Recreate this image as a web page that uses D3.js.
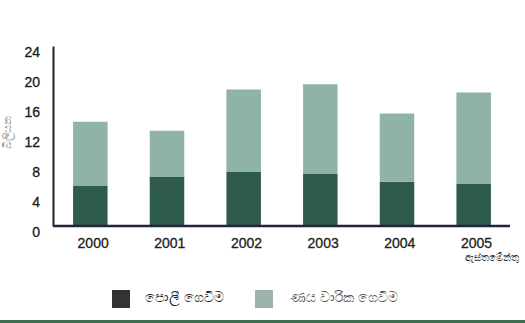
<!DOCTYPE html>
<html><head><meta charset="utf-8">
<script src="https://cdn.jsdelivr.net/npm/d3@7/dist/d3.min.js"></script>
<style>body{margin:0;background:#fff}svg{display:block}text{font-family:"Liberation Sans",Arial,sans-serif}</style>
</head><body><svg id="c" width="525" height="323"></svg>
<script>
const years = ["2000","2001","2002","2003","2004","2005"];
const interest = [5.4, 6.6, 7.2, 7.0, 5.9, 5.6];
const installments = [8.5, 6.1, 11.0, 11.9, 9.1, 12.2];
const yTicks = [0, 4, 8, 12, 16, 20, 24];
const seriesNames = ["පොලී ගෙවීම", "ණය වාරික ගෙවීම"];
const estimateLabel = "ඇස්තමේන්තු";
const yLabel = "බිලියන";

const colors = ["#2f5b4b", "#8fb3a6"];
const legendColors = ["#333333", "#9db2a9"];
const svg = d3.select("#c");
const x = d3.scaleBand().domain(years).range([52, 512]).paddingInner(0.55).paddingOuter(0.275);
const y = d3.scaleLinear().domain([0, 24]).range([226, 46]);

const rows = years.map((yr, i) => ({year: yr, a: interest[i], b: installments[i]}));
const stack = d3.stack().keys(["a", "b"])(rows);

svg.append("g").selectAll("g").data(stack).join("g")
  .attr("fill", (d, i) => colors[i])
  .selectAll("rect").data(d => d).join("rect")
  .attr("x", d => x(d.data.year))
  .attr("width", x.bandwidth())
  .attr("y", d => y(d[1]))
  .attr("height", d => y(d[0]) - y(d[1]));

// y axis
const ya = svg.append("g").attr("transform", "translate(53,0)")
  .call(d3.axisLeft(y).tickValues(yTicks).tickSize(0).tickPadding(13));
ya.select(".domain").attr("stroke", "#222").attr("stroke-width", 2);
ya.selectAll("text").attr("font-size", 14).attr("fill", "#1a1a1a").attr("dy", "0.75em")
  .attr("stroke", "#1a1a1a").attr("stroke-width", 0.3);

// x axis
const xa = svg.append("g").attr("transform", "translate(0,226)")
  .call(d3.axisBottom(x).tickSize(0).tickPadding(12));
xa.select(".domain").attr("d", "M53,0H510").attr("stroke", "#23233a").attr("stroke-width", 2.5);
xa.selectAll("text").attr("font-size", 14).attr("fill", "#222").attr("dx", "0.2em")
  .attr("stroke", "#222").attr("stroke-width", 0.3);

svg.append("text").attr("x", x("2005") + x.bandwidth() / 2 + 18).attr("y", 261)
  .attr("text-anchor", "middle").attr("font-size", 9.5).attr("fill", "#333").text(estimateLabel);

svg.append("text").attr("transform", "translate(11,132) rotate(-90)")
  .attr("text-anchor", "middle").attr("font-size", 11).attr("fill", "#999").text(yLabel);

// legend
const leg = [{x: 112, tx: 145}, {x: 255, tx: 290}];
leg.forEach((l, i) => {
  svg.append("rect").attr("x", l.x).attr("y", 290).attr("width", 18).attr("height", 18).attr("fill", legendColors[i]);
  svg.append("text").attr("x", l.tx).attr("y", 297).attr("dy", "0.35em").attr("font-size", 13.5)
    .attr("fill", i ? "#555" : "#222").text(seriesNames[i]);
});

// bottom green band
svg.append("rect").attr("x", 0).attr("y", 320).attr("width", 525).attr("height", 3).attr("fill", "#3f6e52");
</script></body></html>
